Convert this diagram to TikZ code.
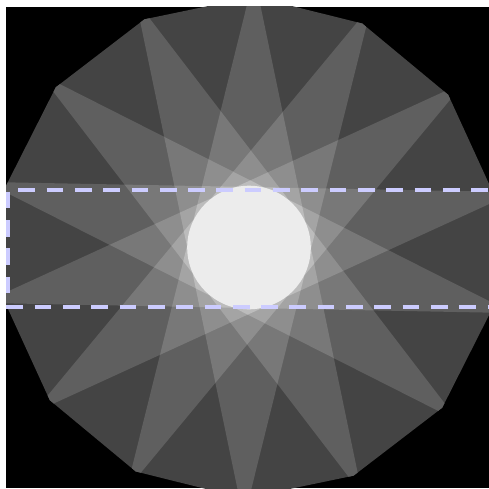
\documentclass[tikz,border=0pt]{standalone}
\begin{document}
\begin{tikzpicture}[x=1pt,y=1pt]
\definecolor{lev0}{HTML}{444444}
\definecolor{lev1}{HTML}{5F5F5F}
\definecolor{lev2}{HTML}{787878}
\definecolor{lev3}{HTML}{8E8E8E}
\definecolor{lev4}{HTML}{A4A4A4}
\definecolor{lev5}{HTML}{BCBCBC}
\definecolor{lev6}{HTML}{ECECEC}
\definecolor{lav}{HTML}{CCCCFF}
\tikzset{dashline/.style={draw=lav,line width=4pt,dash pattern=on 16.7pt off 11.6pt}}
\useasboundingbox (0,0) rectangle (489,488);
\fill[white] (0,0) rectangle (489,488);
\fill[black] (6,0) rectangle (489,481);
\begin{scope}
\clip (6,0) rectangle (489,481);
\begin{scope}[shift={(249,240.5)}]
\def\psi{88.9}
\def\dd{60.5}
\def\RR{251}
% outer 14-gon
\fill[lev0] (\psi:\RR) \foreach \v in {1,...,13}{ -- ({\psi+360/14*\v}:\RR)} -- cycle;
\begin{scope}
\clip (\psi:\RR) \foreach \v in {1,...,13}{ -- ({\psi+360/14*\v}:\RR)} -- cycle;
\foreach \k/\col in {6/lev1,5/lev2,4/lev3,3/lev4,2/lev5}{
  \pgfmathsetmacro\ro{\dd/cos(\k*180/14)}
  \pgfmathsetmacro\ri{\dd/cos((\k-1)*180/14)}
  \pgfmathsetmacro\aa{\psi+\k*180/14}
  \fill[fill=\col] (\aa:\ro) \foreach \v in {0,...,13}{ -- ({\aa+360/14*\v+180/14}:\ri) -- ({\aa+360/14*(\v+1)}:\ro)} -- cycle;
}
\fill[lev6] (0,0) circle[radius=61.8];
\end{scope}
\end{scope}
% dashed frame
\coordinate (tl) at (8,298.5);
\coordinate (bl) at (8,181.5);
\coordinate (tr) at (520,298.5);
\coordinate (br) at (520,181.5);
\draw[dashline,dash phase=18pt] (tl) -- (tr);
\draw[dashline,dash phase=26.1pt] (tl) -- (bl) -- (br);
\end{scope}
\end{tikzpicture}
\end{document}
